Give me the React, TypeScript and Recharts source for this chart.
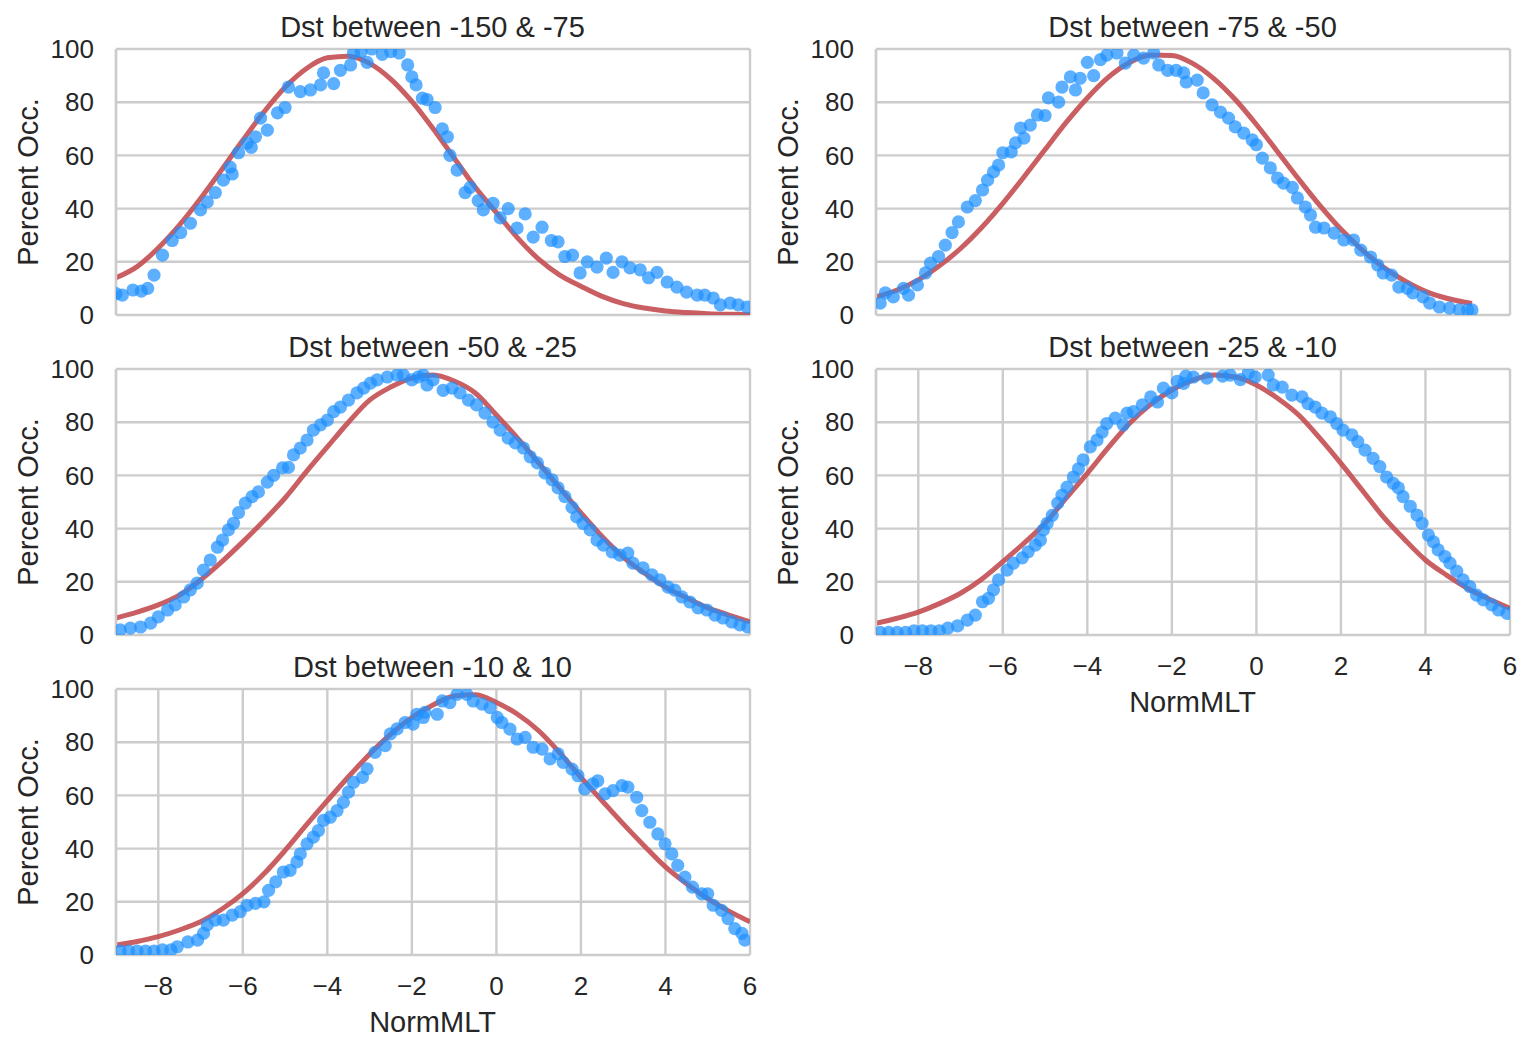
import React from "react";
import {
  CartesianGrid,
  ComposedChart,
  Line,
  Scatter,
  XAxis,
  YAxis,
} from "recharts";

// x ticks shared by every panel
const xTicks = [-8, -6, -4, -2, 0, 2, 4, 6];
const yTicks = [0, 20, 40, 60, 80, 100];

// x grid of the fitted curves
const fitX = [
  -9, -8.5, -8, -7.5, -7, -6.5, -6, -5.5, -5, -4.5, -4, -3.5, -3, -2.5, -2,
  -1.5, -1, -0.5, 0, 0.5, 1, 1.5, 2, 2.5, 3, 3.5, 4, 4.5, 5, 5.5, 6,
];
const fitXShort = [
  -9, -8.5, -8, -7.5, -7, -6.5, -6, -5.5, -5, -4.5, -4, -3.5, -3, -2.5, -2,
  -1.5, -1, -0.5, 0, 0.5, 1, 1.5, 2, 2.5, 3, 3.5, 4, 4.5, 5, 5.1,
];

const fit1 = [14, 18.2, 25.2, 33.8, 43.8, 54.6, 65.7, 76.3, 85.6, 92.6, 96.7, 97.3, 94.6, 88.7, 80.3, 70.1, 59, 48, 38.5, 29, 21, 15, 10.8, 7, 4.3, 2.6, 1.5, 0.9, 0.5, 0.3, 0.2];
const fit2 = [6.8, 9.4, 13.2, 18.5, 25, 32.9, 42, 51.9, 62.2, 72.4, 81.6, 89.4, 94.9, 97.7, 97.6, 94.5, 88.8, 81, 71.6, 61.4, 51.1, 41.2, 32.2, 24.5, 18, 12.9, 8.9, 6.3, 4.6, 4.3];
const fit3 = [6.4, 8.6, 11.3, 15, 20.7, 27.5, 35, 43, 51.5, 61.3, 70.7, 80, 88.3, 93.2, 96.6, 97.7, 95.5, 91, 82.7, 74, 64.7, 55.3, 45.9, 37, 29.3, 23.3, 18, 14, 10.2, 7.5, 4.9];
const fit4 = [4.4, 6.3, 8.6, 11.8, 15.7, 21, 27.6, 34.5, 42, 51.5, 60.8, 70.5, 79.6, 86.7, 92.1, 95.8, 97.7, 97, 94, 89, 82.7, 74, 64.5, 54.5, 44.5, 36, 28.2, 22.5, 17.5, 13.5, 10];
const fit5 = [3.7, 5.1, 6.9, 9.4, 12.5, 17.2, 23.1, 30.5, 39.3, 48.8, 58, 67, 75.5, 83, 89.3, 94, 97.4, 97.8, 94.9, 90.5, 84.3, 76, 66.8, 58, 49.3, 41, 33.1, 26.8, 21.2, 16.5, 12.5];

// measured occupancy, [NormMLT, percent]
const occ1 = [
  [-9, 8], [-8.85, 7.5], [-8.6, 9.4], [-8.4, 9], [-8.25, 10], [-8.1, 15], [-7.9, 22.5], [-7.67, 28],
  [-7.47, 31], [-7.24, 34.5], [-7, 39.5], [-6.84, 42.5], [-6.65, 46], [-6.46, 50.7], [-6.3, 55.6],
  [-6.25, 53], [-6.1, 61], [-5.9, 64.6], [-5.8, 63], [-5.7, 67], [-5.58, 74], [-5.42, 69.5],
  [-5.18, 76], [-5, 78], [-4.92, 85.7], [-4.64, 84], [-4.4, 84.6], [-4.16, 86.5], [-4.09, 91],
  [-3.85, 87], [-3.69, 92], [-3.45, 94], [-3.38, 98.5], [-3.2, 99], [-3.06, 95], [-2.95, 100],
  [-2.7, 98], [-2.5, 99], [-2.3, 98.5], [-2.1, 94], [-2, 89.5], [-1.9, 86.5], [-1.75, 81.5],
  [-1.64, 81], [-1.45, 78], [-1.28, 70], [-1.16, 67], [-1.1, 60], [-0.93, 54.5], [-0.74, 46],
  [-0.62, 48], [-0.43, 43], [-0.31, 39.5], [-0.08, 42], [0.09, 36.5], [0.28, 40], [0.49, 32.7],
  [0.68, 38], [0.87, 29.3], [1.08, 33], [1.3, 28], [1.46, 27.5], [1.62, 22], [1.8, 22.5],
  [1.98, 15.8], [2.15, 20], [2.38, 18], [2.6, 21.4], [2.76, 16], [2.97, 20], [3.16, 17.7],
  [3.4, 17], [3.6, 14], [3.8, 16], [4.04, 12.4], [4.27, 10.5], [4.5, 8.6], [4.75, 7.5],
  [4.93, 7.5], [5.13, 6.4], [5.3, 3.8], [5.53, 4.5], [5.72, 3.8], [5.93, 3],
];
const occ2 = [
  [-8.9, 4.5], [-8.78, 8.3], [-8.59, 6.8], [-8.35, 10], [-8.23, 7.5], [-8.02, 11.3], [-7.83, 15.8],
  [-7.71, 19.5], [-7.52, 22], [-7.36, 26.3], [-7.2, 31], [-7.05, 35], [-6.84, 40.6], [-6.65, 43],
  [-6.48, 47], [-6.36, 50.7], [-6.22, 53.8], [-6.1, 56.4], [-6, 61], [-5.8, 61.3], [-5.7, 64.7],
  [-5.58, 70.3], [-5.5, 66.5], [-5.35, 71.4], [-5.18, 75.2], [-5, 75], [-4.92, 81.6], [-4.68, 80],
  [-4.6, 85.7], [-4.4, 89.5], [-4.28, 84.6], [-4.17, 89], [-4, 95], [-3.85, 90], [-3.69, 96],
  [-3.54, 97.7], [-3.3, 98.5], [-3.1, 94.7], [-2.9, 97.7], [-2.67, 96.6], [-2.43, 98.5],
  [-2.31, 94], [-2.1, 92], [-1.9, 92], [-1.72, 91], [-1.66, 87.6], [-1.4, 88.3], [-1.26, 83.5],
  [-1.05, 79], [-0.85, 76.3], [-0.66, 74], [-0.5, 70.7], [-0.3, 68.4], [-0.1, 65.8], [0, 64],
  [0.14, 59], [0.33, 55.3], [0.5, 51.5], [0.64, 49.6], [0.85, 48], [0.97, 44], [1.16, 40.6],
  [1.28, 37.6], [1.4, 33], [1.6, 32.7], [1.84, 30.8], [2.07, 28.2], [2.3, 28.2], [2.47, 24.4],
  [2.7, 21.8], [2.87, 18.8], [3, 15.8], [3.2, 15], [3.37, 10.5], [3.57, 10], [3.7, 8.3],
  [3.94, 6.8], [4.1, 4.5], [4.33, 3], [4.57, 2.6], [4.8, 1.9], [5, 1.9], [5.1, 1.9],
];
const occ3 = [
  [-8.9, 1.9], [-8.66, 2.6], [-8.42, 3], [-8.18, 4.5], [-8, 6.8], [-7.78, 9.4], [-7.6, 11.3],
  [-7.4, 14.3], [-7.24, 17], [-7.08, 19.5], [-6.93, 24.4], [-6.77, 28.2], [-6.6, 33], [-6.48, 35.7],
  [-6.34, 39.5], [-6.22, 42], [-6.1, 46], [-5.94, 49.6], [-5.78, 52], [-5.63, 53.8], [-5.42, 57.5],
  [-5.27, 60], [-5.06, 62.8], [-4.92, 63], [-4.8, 67.7], [-4.64, 70.3], [-4.48, 73.3], [-4.33, 77],
  [-4.16, 79], [-4, 80.8], [-3.85, 84], [-3.69, 85.7], [-3.5, 88.3], [-3.3, 91], [-3.14, 92.8],
  [-2.98, 94.7], [-2.82, 95.9], [-2.58, 97], [-2.35, 97.7], [-2.2, 97.7], [-2, 95.9], [-1.85, 97],
  [-1.73, 97.7], [-1.64, 94], [-1.5, 95.9], [-1.26, 92], [-1.05, 92.8], [-0.86, 91], [-0.66, 88.3],
  [-0.47, 86.5], [-0.27, 83.4], [-0.08, 80], [0.09, 77], [0.28, 74], [0.45, 72.2], [0.64, 70.3],
  [0.8, 67], [0.97, 64.7], [1.15, 60.9], [1.32, 58.3], [1.46, 55.3], [1.62, 52], [1.79, 48],
  [1.9, 44.4], [2.05, 42], [2.22, 39.5], [2.38, 35.7], [2.53, 33.8], [2.74, 31.2], [2.92, 30],
  [3.11, 30.8], [3.23, 27], [3.47, 25.2], [3.68, 22.6], [3.87, 20.7], [4.06, 18], [4.22, 16.9],
  [4.39, 14.3], [4.58, 12.4], [4.77, 10.2], [4.98, 9.4], [5.17, 7.5], [5.36, 6.4], [5.57, 4.9],
  [5.76, 3.8], [5.95, 3],
];
const occ4 = [
  [-8.9, 1], [-8.7, 1], [-8.5, 1], [-8.3, 1], [-8.1, 1.6], [-7.9, 1.6], [-7.7, 1.6], [-7.5, 1.6],
  [-7.3, 2.6], [-7.07, 3.4], [-6.84, 5.6], [-6.65, 7.5], [-6.48, 12.5], [-6.34, 13.8], [-6.22, 17],
  [-6.1, 20.7], [-5.9, 24.4], [-5.75, 27], [-5.54, 29], [-5.4, 31.3], [-5.23, 33.8], [-5.11, 35.7],
  [-5.04, 39.5], [-4.95, 42], [-4.83, 45], [-4.7, 49.6], [-4.6, 52.6], [-4.48, 55.6], [-4.33, 59.4],
  [-4.21, 62.5], [-4.1, 65.8], [-3.93, 70.7], [-3.77, 73.3], [-3.65, 76.3], [-3.54, 79.5],
  [-3.34, 81.5], [-3.15, 79], [-3.06, 83.4], [-2.91, 84], [-2.7, 86.5], [-2.5, 89.5], [-2.34, 87.6],
  [-2.2, 92.8], [-2, 91], [-1.87, 95.4], [-1.72, 94.6], [-1.67, 97.3], [-1.49, 97], [-1.17, 96.6],
  [-0.8, 97.3], [-0.62, 97.7], [-0.38, 96], [-0.19, 98.5], [-0.03, 97], [0.28, 97.7], [0.4, 94],
  [0.61, 93.2], [0.84, 90.2], [1.08, 89.5], [1.22, 87], [1.39, 85.7], [1.55, 83.4], [1.75, 82],
  [1.9, 79.5], [2.05, 77], [2.26, 75.2], [2.4, 72.7], [2.57, 69.5], [2.76, 66.4], [2.92, 63.3],
  [3.08, 59.4], [3.24, 57], [3.36, 55.3], [3.47, 52], [3.64, 48.4], [3.8, 45.1], [3.92, 42],
  [4.07, 37.6], [4.19, 35], [4.3, 32], [4.46, 29.5], [4.58, 27], [4.74, 24], [4.89, 20.7],
  [5.05, 18.2], [5.21, 15], [5.37, 13.2], [5.57, 11.3], [5.73, 9.4], [5.93, 8.1],
];
const occ5 = [
  [-8.9, 1.5], [-8.7, 1.5], [-8.5, 1.5], [-8.3, 1.5], [-8.1, 1.5], [-7.9, 1.9], [-7.7, 1.9],
  [-7.55, 3.1], [-7.3, 4.9], [-7.07, 5.6], [-6.93, 8.1], [-6.84, 11.3], [-6.65, 13.1], [-6.46, 13.1],
  [-6.25, 15], [-6.06, 16.3], [-5.9, 18.7], [-5.7, 19.4], [-5.5, 20], [-5.39, 24.3], [-5.22, 27.5],
  [-5.04, 31.2], [-4.88, 31.8], [-4.72, 35], [-4.64, 38], [-4.48, 41.8], [-4.33, 44.3], [-4.21, 46.8],
  [-4.09, 50.6], [-3.93, 51.8], [-3.77, 54.3], [-3.62, 57.4], [-3.5, 61.2], [-3.38, 64.9],
  [-3.17, 66.8], [-3.06, 70], [-2.87, 76.2], [-2.63, 78.7], [-2.51, 83.1], [-2.35, 85], [-2.16, 87.4],
  [-1.97, 86.8], [-1.88, 90.5], [-1.73, 89.3], [-1.69, 91.2], [-1.4, 90.5], [-1.28, 95.5],
  [-1.1, 94.9], [-0.93, 98], [-0.7, 98], [-0.55, 95.5], [-0.34, 94.3], [-0.15, 93], [0.02, 89.3],
  [0.13, 87.4], [0.32, 84.9], [0.49, 81.2], [0.68, 81.8], [0.87, 78.1], [1.08, 77.4], [1.27, 73.7],
  [1.46, 75.6], [1.58, 72.4], [1.79, 69.9], [1.93, 67.4], [2.09, 62.4], [2.28, 64.3], [2.4, 65.5],
  [2.57, 60.6], [2.76, 61.8], [2.97, 63.7], [3.11, 63.1], [3.32, 59.3], [3.44, 54.3], [3.63, 49.9],
  [3.82, 45.5], [3.99, 41.8], [4.15, 38], [4.29, 33.7], [4.46, 29.3], [4.64, 25.5], [4.86, 23],
  [5, 23], [5.13, 18.7], [5.33, 16.8], [5.48, 13.7], [5.64, 9.9], [5.81, 8.1], [5.88, 5.6],
];

const titles = [
  "Dst between -150 & -75",
  "Dst between -75 & -50",
  "Dst between -50 & -25",
  "Dst between -25 & -10",
  "Dst between -10 & 10",
];

const FONT = '"Liberation Sans", Arial, sans-serif';
const INK = "#262626";
const GRID = "#cccccc";
const PLOT_W = 634;
const PLOT_H = 266;
const Y_AXIS_W = 115;
const COL_LEFT = [115.5, 875.5];
const ROW_TOP = [49, 369, 688.5];

const fmt = (v: number) => (v < 0 ? `\u2212${Math.abs(v)}` : String(v));

const Dot = (props: any) => (
  <circle cx={props.cx} cy={props.cy} r={6.6} fill="#1e90ff" fillOpacity={0.72} />
);

type PanelProps = {
  title: string;
  occ: number[][];
  fx: number[];
  fy: number[];
  col: number;
  row: number;
  showX: boolean;
};

function Panel({ title, occ, fx, fy, col, row, showX }: PanelProps) {
  // generous top/bottom margins so the 100 and 0 tick labels are not cut
  const margin = { top: 18, right: 8, bottom: 18, left: 0 };
  const xh = showX ? 56 : 0;
  const plotLeft = COL_LEFT[col];
  const plotTop = ROW_TOP[row];
  const points = occ.map(([x, y]) => ({ x, y }));
  const curve = fx.map((x, i) => ({ x, y: fy[i] }));
  const centerX = plotLeft + PLOT_W / 2;

  return (
    <>
      <div
        style={{
          position: "absolute",
          left: plotLeft - Y_AXIS_W,
          top: plotTop - margin.top,
        }}
      >
        <ComposedChart
          width={Y_AXIS_W + PLOT_W + margin.right}
          height={margin.top + PLOT_H + margin.bottom + xh}
          margin={margin}
        >
          <CartesianGrid stroke={GRID} strokeWidth={2.4} />
          <XAxis
            type="number"
            dataKey="x"
            domain={[-9, 6]}
            ticks={xTicks}
            interval={0}
            allowDataOverflow
            height={xh}
            tick={showX ? { fontSize: 26, fill: INK, fontFamily: FONT } : false}
            tickFormatter={fmt}
            tickLine={false}
            tickSize={0}
            tickMargin={22}
            axisLine={false}
          />
          <YAxis
            type="number"
            dataKey="y"
            domain={[0, 100]}
            ticks={yTicks}
            interval={0}
            allowDataOverflow
            width={Y_AXIS_W}
            tick={{ fontSize: 26, fill: INK, fontFamily: FONT }}
            tickLine={false}
            tickSize={0}
            tickMargin={22}
            axisLine={{ stroke: GRID, strokeWidth: 2.4 }}
          />
          <Scatter data={points} shape={Dot} isAnimationActive={false} />
          <Line
            data={curve}
            dataKey="y"
            type="monotone"
            stroke="#c44e52"
            strokeOpacity={0.9}
            strokeWidth={5}
            dot={false}
            activeDot={false}
            isAnimationActive={false}
          />
        </ComposedChart>
      </div>
      <div
        style={{
          position: "absolute",
          left: centerX,
          top: plotTop - 22,
          transform: "translate(-50%, -50%)",
          fontSize: 29,
          lineHeight: 1,
          whiteSpace: "nowrap",
          color: INK,
        }}
      >
        {title}
      </div>
      <div
        style={{
          position: "absolute",
          left: plotLeft - 87.5,
          top: plotTop + PLOT_H / 2,
          transform: "translate(-50%, -50%) rotate(-90deg)",
          fontSize: 29,
          lineHeight: 1,
          whiteSpace: "nowrap",
          color: INK,
        }}
      >
        Percent Occ.
      </div>
      {showX && (
        <div
          style={{
            position: "absolute",
            left: centerX,
            top: plotTop + PLOT_H + 67,
            transform: "translate(-50%, -50%)",
            fontSize: 29,
            lineHeight: 1,
            whiteSpace: "nowrap",
            color: INK,
          }}
        >
          NormMLT
        </div>
      )}
    </>
  );
}

export default function App() {
  const panels = [
    { occ: occ1, fx: fitX, fy: fit1, col: 0, row: 0, showX: false },
    { occ: occ2, fx: fitXShort, fy: fit2, col: 1, row: 0, showX: false },
    { occ: occ3, fx: fitX, fy: fit3, col: 0, row: 1, showX: false },
    { occ: occ4, fx: fitX, fy: fit4, col: 1, row: 1, showX: true },
    { occ: occ5, fx: fitX, fy: fit5, col: 0, row: 2, showX: true },
  ];
  return (
    <div
      style={{
        position: "relative",
        width: 1533,
        height: 1052,
        background: "#fff",
        fontFamily: FONT,
        overflow: "hidden",
      }}
    >
      <style>{"body { margin: 0; }"}</style>
      {panels.map((p, i) => (
        <Panel key={i} title={titles[i]} {...p} />
      ))}
    </div>
  );
}
